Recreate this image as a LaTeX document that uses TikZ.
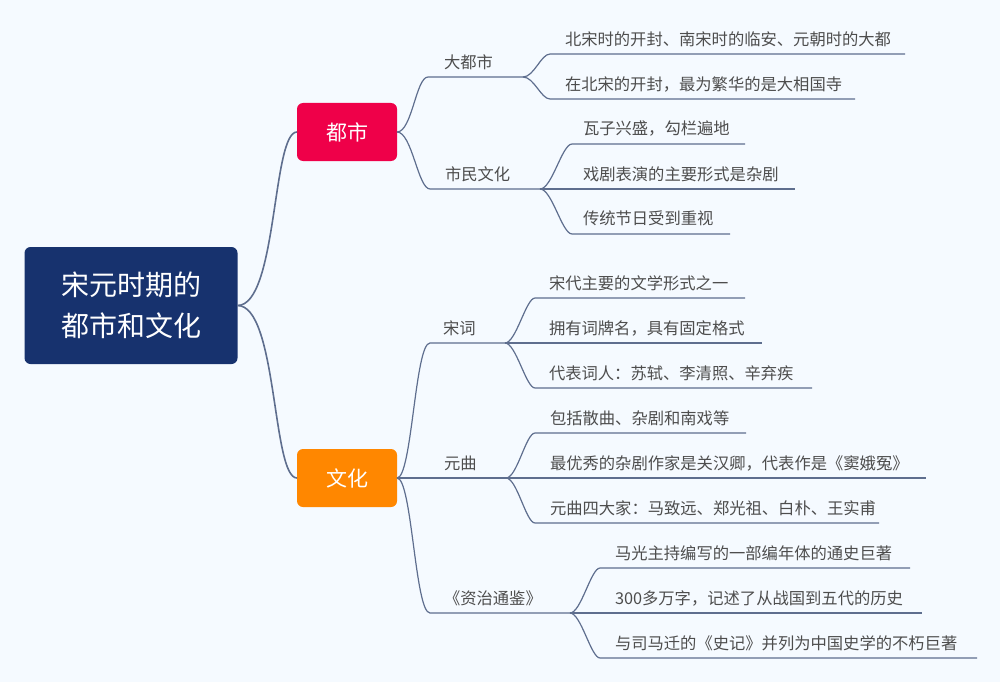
\documentclass[tikz,border=0pt]{standalone}
\usepackage{fontspec}
\newfontfamily\cjk{Noto Sans CJK SC}
\definecolor{bgcol}{HTML}{F5FAFF}
\definecolor{navy}{HTML}{17326E}
\definecolor{crimson}{HTML}{EF0049}
\definecolor{orangec}{HTML}{FF8700}
\definecolor{linecol}{HTML}{5E6E8E}
\definecolor{leafgray}{HTML}{4D4D4D}
\begin{document}
\begin{tikzpicture}[x=1pt,y=-1pt,
  every node/.style={inner sep=0pt, outer sep=0pt},
  leaf/.style={anchor=west, text=leafgray, font=\cjk\fontsize{16.3}{20}\selectfont},
  topic/.style={anchor=west, text=leafgray, font=\cjk\fontsize{16.3}{20}\selectfont},
  rootbox/.style={fill=navy, text=white, rounded corners=6pt, minimum width=213pt, minimum height=117pt, align=center, font=\cjk\fontsize{28}{41}\selectfont},
  mainbox/.style={text=white, rounded corners=6pt, minimum width=100pt, minimum height=58pt, font=\cjk\fontsize{21}{25}\selectfont},
  conn/.style={draw=linecol, line width=1.2pt},
  mainconn/.style={draw=linecol, line width=1.6pt},
]
\useasboundingbox (0,0) rectangle (1000,682);
\fill[bgcol] (0,0) rectangle (1000,682);

% main nodes
\node[rootbox] (root) at (131,305.5) {宋元时期的\\都市和文化};
\node[mainbox, fill=crimson] (dushi) at (347,132) {都市};
\node[mainbox, fill=orangec] (wenhua) at (347,478) {文化};

\draw[mainconn] (root.east) to[out=0,in=180,out distance=40pt,in distance=25pt] (dushi.west);
\draw[mainconn] (root.east) to[out=0,in=180,out distance=40pt,in distance=25pt] (wenhua.west);

% ---- 大都市
\node[topic] (dds) at (444,62) {大都市};
\coordinate (dds-s) at (428,77); \coordinate (dds-e) at (523,77);
\draw[conn] (dushi.east) to[out=0,in=180,out distance=15pt,in distance=12pt] (dds-s) -- (dds-e);

\node[leaf] (a1) at (565,39) {北宋时的开封、南宋时的临安、元朝时的大都};
\coordinate (a1-s) at (550,54); \coordinate (a1-e) at (905,54);
\draw[conn] (dds-e) to[out=0,in=180,out distance=11pt,in distance=9pt] (a1-s) -- (a1-e);
\node[leaf] (a2) at (565,84) {在北宋的开封，最为繁华的是大相国寺};
\coordinate (a2-s) at (550,99); \coordinate (a2-e) at (855,99);
\draw[conn] (dds-e) to[out=0,in=180,out distance=11pt,in distance=9pt] (a2-s) -- (a2-e);

% ---- 市民文化
\node[topic] (smwh) at (445,174) {市民文化};
\coordinate (smwh-s) at (430,189); \coordinate (smwh-e) at (540,189);
\draw[conn] (dushi.east) to[out=0,in=180,out distance=15pt,in distance=12pt] (smwh-s) -- (smwh-e);

\node[leaf] (b1) at (583,129) {瓦子兴盛，勾栏遍地};
\coordinate (b1-s) at (572,144); \coordinate (b1-e) at (745,144);
\draw[conn] (smwh-e) to[out=0,in=180,out distance=12pt,in distance=10pt] (b1-s) -- (b1-e);
\node[leaf] (b2) at (583,174) {戏剧表演的主要形式是杂剧};
\coordinate (b2-e) at (795,189);
\draw[conn] (smwh-e) -- (b2-e);
\node[leaf] (b3) at (583,218) {传统节日受到重视};
\coordinate (b3-s) at (572,234); \coordinate (b3-e) at (730,234);
\draw[conn] (smwh-e) to[out=0,in=180,out distance=12pt,in distance=10pt] (b3-s) -- (b3-e);

% ---- 宋词
\node[topic] (sc) at (443,328) {宋词};
\coordinate (sc-s) at (430,343); \coordinate (sc-e) at (505,343);
\draw[conn] (wenhua.east) to[out=0,in=180,out distance=15pt,in distance=15pt] (sc-s) -- (sc-e);

\node[leaf] (c1) at (549,283) {宋代主要的文学形式之一};
\coordinate (c1-s) at (535,298); \coordinate (c1-e) at (745,298);
\draw[conn] (sc-e) to[out=0,in=180,out distance=11pt,in distance=9pt] (c1-s) -- (c1-e);
\node[leaf] (c2) at (549,328) {拥有词牌名，具有固定格式};
\coordinate (c2-e) at (762,343);
\draw[conn] (sc-e) -- (c2-e);
\node[leaf] (c3) at (549,373) {代表词人：苏轼、李清照、辛弃疾};
\coordinate (c3-s) at (535,388); \coordinate (c3-e) at (812,388);
\draw[conn] (sc-e) to[out=0,in=180,out distance=11pt,in distance=9pt] (c3-s) -- (c3-e);

% ---- 元曲
\node[topic] (yq) at (444,463) {元曲};
\coordinate (yq-e) at (506,478);
\draw[conn] (wenhua.east) -- (yq-e);

\node[leaf] (d1) at (550,418) {包括散曲、杂剧和南戏等};
\coordinate (d1-s) at (535,433); \coordinate (d1-e) at (746,433);
\draw[conn] (yq-e) to[out=0,in=180,out distance=11pt,in distance=9pt] (d1-s) -- (d1-e);
\node[leaf] (d2) at (550,463) {最优秀的杂剧作家是关汉卿，代表作是《窦娥冤》};
\coordinate (d2-e) at (926,478);
\draw[conn] (yq-e) -- (d2-e);
\node[leaf] (d3) at (550,508) {元曲四大家：马致远、郑光祖、白朴、王实甫};
\coordinate (d3-s) at (535,523); \coordinate (d3-e) at (879,523);
\draw[conn] (yq-e) to[out=0,in=180,out distance=11pt,in distance=9pt] (d3-s) -- (d3-e);

% ---- 资治通鉴
\node[topic] (zz) at (444,598) {《资治通鉴》};
\coordinate (zz-s) at (430,613); \coordinate (zz-e) at (570,613);
\draw[conn] (wenhua.east) to[out=0,in=180,out distance=15pt,in distance=15pt] (zz-s) -- (zz-e);

\node[leaf] (e1) at (615,553) {马光主持编写的一部编年体的通史巨著};
\coordinate (e1-s) at (600,568); \coordinate (e1-e) at (910,568);
\draw[conn] (zz-e) to[out=0,in=180,out distance=11pt,in distance=9pt] (e1-s) -- (e1-e);
\node[leaf] (e2) at (615,598) {300多万字，记述了从战国到五代的历史};
\coordinate (e2-e) at (922,613);
\draw[conn] (zz-e) -- (e2-e);
\node[leaf] (e3) at (615,643) {与司马迁的《史记》并列为中国史学的不朽巨著};
\coordinate (e3-s) at (600,658); \coordinate (e3-e) at (977,658);
\draw[conn] (zz-e) to[out=0,in=180,out distance=11pt,in distance=9pt] (e3-s) -- (e3-e);
\end{tikzpicture}
\end{document}
